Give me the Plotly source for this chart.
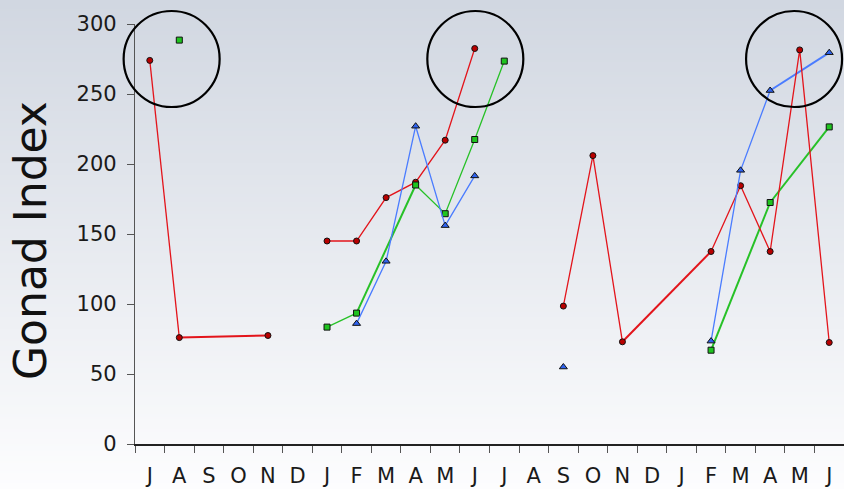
import base64
import struct
import zlib

import plotly.graph_objects as go

# Month axis: two seasons, July through June
months = ["J", "A", "S", "O", "N", "D", "J", "F", "M", "A", "M", "J",
          "J", "A", "S", "O", "N", "D", "J", "F", "M", "A", "M", "J"]

# Gonad index per month (None = no sample)
red = [274, 76, None, None, 77.5, None, 145, 145, 176, 187, 217, 282.5,
       None, None, 98.5, 206, 73, None, None, 137.5, 184.5, 137.5, 281.5, 72.5]
green = [None, 288.5, None, None, None, None, 83.5, 93.5, None, 185, 164.5, 217.5,
         273.5, None, None, None, None, None, None, 67, None, 172.5, None, 226.5]
blue = [None, None, None, None, None, None, None, 86, 130.5, 227, 156, 191.5,
        None, None, 55, None, None, None, None, 73.5, 195.5, 252.5, None, 279.5]

# Pairs of months joined across a missing sample
red_bridges = [(1, 4), (16, 19)]
green_bridges = [(7, 9), (19, 21), (21, 23)]
blue_bridges = [(21, 23)]

# Highlighted peaks (month position, index level)
highlights = [(0.74, 275), (11.02, 275), (21.81, 275)]

x = list(range(len(months)))

W, H = 844, 489
L, R, T, B = 135, 0, 24, 45
pw, ph = W - L - R, H - T - B
X_MIN, X_MAX = -0.5, 23.5
Y_MIN, Y_MAX = 0, 300


def gradient_png(top, bottom, h=200, w=4):
    raw = b""
    for r in range(h):
        f = r / (h - 1)
        c = bytes(int(round(top[k] + (bottom[k] - top[k]) * f)) for k in range(3))
        raw += b"\x00" + c * w

    def chunk(tag, data):
        return (struct.pack(">I", len(data)) + tag + data
                + struct.pack(">I", zlib.crc32(tag + data) & 0xFFFFFFFF))

    png = b"\x89PNG\r\n\x1a\n"
    png += chunk(b"IHDR", struct.pack(">IIBBBBB", w, h, 8, 2, 0, 0, 0))
    png += chunk(b"IDAT", zlib.compress(raw, 9))
    png += chunk(b"IEND", b"")
    return "data:image/png;base64," + base64.b64encode(png).decode()


series = [
    (red, red_bridges, "#e3141b", dict(symbol="circle", size=6, color="#b80000")),
    (green, green_bridges, "#27c127", dict(symbol="square", size=6, color="#1fc41f")),
    (blue, blue_bridges, "#4a7cff", dict(symbol="triangle-up", size=7, color="#2f63f0")),
]

fig = go.Figure()

# connector segments across gaps
for vals, bridges, col, mk in series:
    for a, b in bridges:
        fig.add_trace(go.Scatter(
            x=[x[a], x[b]], y=[vals[a], vals[b]], mode="lines",
            line=dict(color=col, width=2), hoverinfo="skip", showlegend=False))

# main series
for vals, bridges, col, mk in series:
    fig.add_trace(go.Scatter(
        x=x, y=vals, mode="lines+markers", connectgaps=False,
        line=dict(color=col, width=1.3),
        marker=dict(symbol=mk["symbol"], size=mk["size"], color=mk["color"],
                    line=dict(color="#111111", width=1)),
        showlegend=False))

# ring outlines, paper-referenced so they are not clipped at the axes
shapes = []
for cx, cy in highlights:
    shapes.append(dict(
        type="circle", xref="paper", yref="paper",
        xsizemode="pixel", ysizemode="pixel",
        xanchor=(cx - X_MIN) / (X_MAX - X_MIN),
        yanchor=(cy - Y_MIN) / (Y_MAX - Y_MIN),
        x0=-48, x1=48, y0=-48, y1=48,
        line=dict(color="#000000", width=2.2)))

fig.update_layout(
    width=W, height=H,
    margin=dict(l=L, r=R, t=T, b=B, pad=0),
    paper_bgcolor="#ffffff",
    plot_bgcolor="rgba(0,0,0,0)",
    font=dict(family="DejaVu Sans, Verdana, sans-serif", color="#1a1a1a"),
    shapes=shapes,
    images=[dict(
        source=gradient_png((209, 215, 225), (253, 253, 254)),
        xref="paper", yref="paper", x=-L / pw, y=1 + T / ph,
        sizex=W / pw, sizey=H / ph, sizing="stretch",
        xanchor="left", yanchor="top", layer="below")],
    annotations=[dict(
        text="Gonad Index", xref="paper", yref="paper",
        x=(31 - L) / pw, y=(T + ph - 241) / ph, xanchor="center", yanchor="middle",
        textangle=-90, showarrow=False,
        font=dict(size=44, family="DejaVu Sans, Verdana, sans-serif", color="#111111"))],
)

fig.update_xaxes(
    range=[X_MIN, X_MAX], tickmode="array", tickvals=x, ticktext=months,
    ticks="outside", ticklen=12, tickcolor="rgba(0,0,0,0)",
    tickfont=dict(size=21, color="#1a1a1a"),
    showline=True, linecolor="#222222", linewidth=1.5,
    showgrid=False, zeroline=False, automargin=False,
    minor=dict(tickmode="linear", tick0=-0.5, dtick=1, ticks="outside",
               ticklen=7, tickcolor="#555555", tickwidth=1, showgrid=False),
)
fig.update_yaxes(
    range=[Y_MIN, Y_MAX], tickmode="array", tickvals=[0, 50, 100, 150, 200, 250, 300],
    ticks="outside", ticklen=7, tickcolor="#555555", ticklabelstandoff=6,
    tickfont=dict(size=21, color="#1a1a1a"),
    showline=True, linecolor="#555555", linewidth=1.2,
    showgrid=False, zeroline=False, automargin=False,
)

fig.write_html("out.html")
